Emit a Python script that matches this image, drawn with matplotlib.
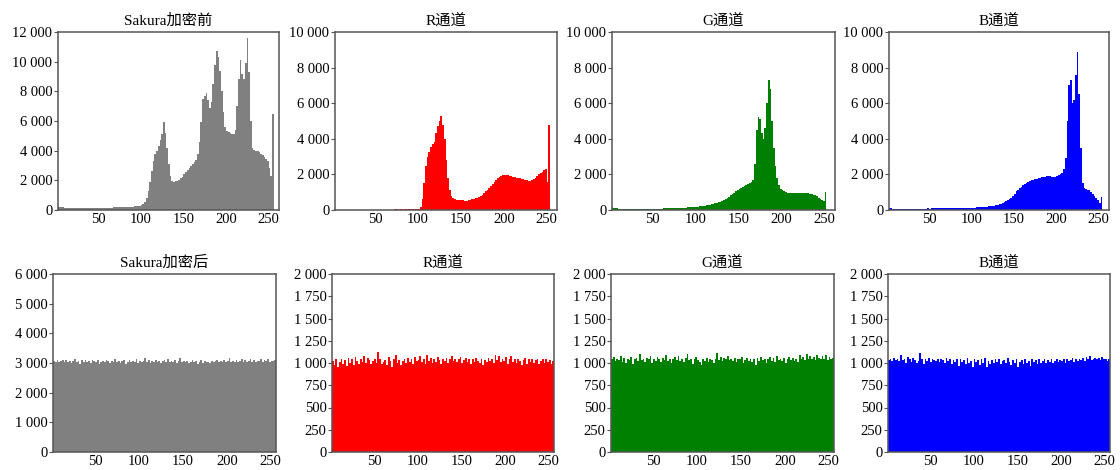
import numpy as np
import matplotlib
matplotlib.use("Agg")
import matplotlib.pyplot as plt
from matplotlib.ticker import FuncFormatter

plt.rcParams['font.family'] = ['Liberation Serif', 'Noto Sans CJK SC', 'DejaVu Sans']

# grey levels, one bin every 2 levels (0, 2, ..., 254)
levels = np.arange(0, 256, 2)

# before encryption
gray_before = [
    260, 250, 230, 200, 180, 160, 140, 130, 120, 115,
    110, 112, 108, 115, 110, 118, 112, 120, 115, 118,
    125, 130, 128, 135, 132, 140, 138, 145, 150, 148,
    155, 160, 158, 165, 170, 175, 172, 180, 185, 190,
    195, 200, 210, 215, 225, 235, 245, 255, 270, 290,
    310, 380, 520, 800, 1250, 1900, 2600, 3300, 3800, 4000,
    4300, 4700, 5100, 5900, 5200, 4200, 3100, 2300, 1950, 1900,
    1950, 1980, 2050, 2150, 2250, 2400, 2550, 2700, 2800, 2950,
    3100, 3250, 3400, 3800, 4600, 5900, 7500, 7700, 7900, 7400,
    6900, 7300, 8500, 9800, 10700, 10300, 9400, 8000, 6600, 5600,
    5300, 5250, 5200, 5150, 5100, 5400, 7000, 8800, 10100, 9200,
    8800, 9900, 11600, 9300, 6000, 4200, 4050, 4000, 3950, 3900,
    3800, 3700, 3600, 3450, 3300, 2800, 2300, 6500,
]
r_before = [
    0, 0, 0, 0, 0, 0, 0, 0, 0, 0,
    0, 0, 0, 0, 0, 0, 0, 0, 0, 0,
    0, 0, 0, 0, 0, 0, 0, 0, 0, 0,
    0, 0, 0, 0, 0, 0, 30, 40, 20, 35,
    40, 25, 45, 30, 50, 40, 35, 55, 45, 60,
    80, 150, 600, 1500, 2500, 3000, 3250, 3550, 3700, 3800,
    4300, 4700, 5000, 5300, 4800, 4000, 2800, 1800, 1100, 800,
    650, 600, 580, 570, 560, 550, 545, 530, 520, 540,
    560, 590, 620, 660, 700, 750, 800, 870, 950, 1050,
    1150, 1250, 1350, 1480, 1600, 1700, 1800, 1870, 1900, 1950,
    1950, 1980, 1950, 1920, 1900, 1880, 1850, 1820, 1800, 1780,
    1750, 1720, 1700, 1680, 1650, 1640, 1680, 1750, 1820, 1900,
    2000, 2080, 2150, 2250, 2300, 1600, 4750, 0,
]
g_before = [
    200, 160, 120, 100, 90, 80, 75, 70, 70, 65,
    65, 60, 62, 60, 58, 60, 62, 60, 63, 65,
    65, 68, 66, 70, 70, 72, 75, 74, 78, 80,
    82, 85, 88, 90, 95, 98, 100, 105, 110, 115,
    120, 125, 130, 135, 140, 148, 155, 160, 170, 175,
    185, 195, 205, 215, 230, 245, 260, 280, 300, 320,
    345, 370, 400, 430, 470, 510, 560, 610, 670, 740,
    820, 900, 980, 1050, 1120, 1180, 1230, 1290, 1340, 1390,
    1440, 1500, 1560, 1700, 2600, 4500, 5200, 5100, 4300, 4000,
    4600, 6000, 7300, 6800, 5000, 3500, 2500, 1800, 1400, 1200,
    1100, 1050, 1000, 980, 970, 960, 950, 950, 940, 950,
    960, 960, 970, 960, 950, 940, 920, 890, 860, 820,
    760, 700, 640, 580, 520, 1000, 0, 0,
]
b_before = [
    100, 90, 85, 80, 80, 78, 80, 75, 78, 80,
    78, 80, 76, 78, 80, 82, 78, 80, 82, 80,
    82, 80, 84, 82, 85, 84, 86, 85, 88, 86,
    88, 90, 88, 92, 90, 95, 92, 96, 98, 100,
    100, 102, 105, 108, 110, 112, 115, 118, 120, 125,
    130, 135, 140, 145, 150, 160, 165, 175, 185, 195,
    205, 220, 235, 250, 270, 290, 320, 350, 390, 430,
    480, 540, 610, 700, 800, 920, 1050, 1150, 1230, 1300,
    1380, 1450, 1520, 1580, 1640, 1680, 1700, 1720, 1750, 1780,
    1800, 1830, 1850, 1880, 1900, 1910, 1900, 1880, 1850, 1870,
    1900, 1950, 2000, 2100, 2300, 2900, 5000, 7000, 7300, 6000,
    6200, 7600, 8900, 6500, 3500, 1500, 1250, 1200, 1150, 1100,
    1000, 900, 800, 680, 550, 400, 750, 0,
]

# after encryption
gray_after = [
    3150, 3080, 3040, 3100, 3020, 3060, 3090, 3030, 3110, 3050,
    3070, 3000, 3080, 3120, 3040, 3060, 2980, 3090, 3050, 3100,
    3030, 3070, 3010, 3090, 3060, 3040, 3110, 2960, 3050, 3080,
    3020, 3100, 3060, 2990, 3070, 3040, 3120, 3030, 3080, 3010,
    3060, 3090, 2950, 3050, 3100, 3020, 3070, 3040, 3140, 3000,
    3080, 3030, 3060, 3170, 3040, 3090, 3010, 3070, 3050, 3110,
    3030, 3080, 3000, 3060, 3100, 3040, 3130, 3020, 3070, 3050,
    3090, 3010, 3060, 3180, 3030, 3080, 3040, 3070, 2990, 3050,
    3100, 3020, 3060, 2980, 3040, 3090, 3010, 3070, 3030, 3050,
    3010, 3080, 3040, 3060, 3100, 3020, 3070, 3050, 3090, 3030,
    3060, 3180, 3040, 3080, 3020, 3100, 3050, 3070, 3130, 3040,
    3090, 3030, 3070, 3150, 3050, 3100, 3020, 3080, 3060, 3120,
    3040, 3090, 3070, 3130, 3050, 3080, 3060, 3100,
]
r_after = [
    1110, 1020, 980, 1040, 960, 1010, 1050, 990, 1030, 970,
    1060, 1000, 1040, 980, 1070, 1020, 990, 1050, 1010, 1080,
    1000, 1060, 1030, 990, 1020, 1050, 1000, 1120, 1040, 990,
    1010, 1030, 980, 1070, 1020, 960, 1040, 1090, 1000, 1030,
    980, 1020, 1050, 1000, 1060, 1010, 1040, 990, 1070, 1020,
    1030, 1080, 1010, 1050, 990, 1090, 1020, 1060, 1000, 1040,
    1010, 1070, 1030, 990, 1050, 1020, 1060, 1000, 1040, 1080,
    1020, 1050, 1010, 1040, 1070, 1000, 1030, 1060, 1010, 1050,
    990, 1040, 1010, 1060, 1020, 1000, 1050, 980, 1030, 1010,
    1060, 1020, 1040, 1000, 1090, 1030, 1080, 1010, 1050, 1020,
    1070, 990, 1040, 1080, 1010, 1050, 1000, 1040, 1020, 980,
    1030, 1060, 990, 1040, 1010, 1050, 1000, 1030, 1040, 990,
    1020, 1050, 1000, 1040, 1010, 1030, 990, 1020,
]
g_after = [
    1060, 1040, 1070, 1020, 1050, 1030, 1080, 1010, 1060, 1000,
    1050, 1030, 1070, 990, 1040, 1060, 1020, 1100, 1030, 1050,
    1010, 1060, 1040, 1080, 1000, 1050, 1020, 1070, 1040, 1010,
    1060, 1030, 1090, 1020, 1050, 1000, 1040, 1070, 1030, 1080,
    1020, 1050, 1010, 1060, 1100, 1030, 1050, 990, 1040, 1070,
    1030, 1010, 980, 1040, 1020, 1060, 1010, 1050, 1030, 1000,
    1040, 1110, 1030, 1070, 1020, 1060, 1040, 1080, 1030, 1050,
    1020, 1060, 1010, 1050, 1040, 1070, 1000, 1030, 1060, 1020,
    1050, 1010, 1040, 980, 1060, 1020, 1070, 1030, 1050, 1000,
    1040, 1070, 1020, 1060, 1010, 1080, 1030, 1050, 1020, 1060,
    1000, 1040, 1070, 1030, 1060, 1020, 1050, 1010, 1090, 1040,
    1070, 1030, 1100, 1050, 1080, 1040, 1070, 1030, 1090, 1060,
    1050, 1080, 1040, 1090, 1030, 1070, 1050, 1060,
]
b_after = [
    1050, 1030, 1040, 1020, 1060, 1030, 1040, 1020, 1090, 1030,
    1050, 1000, 1070, 1040, 1010, 1060, 1030, 1000, 1020, 1110,
    1040, 990, 1050, 1020, 1060, 1010, 1040, 1030, 1020, 1050,
    1010, 1040, 1030, 1000, 1060, 1020, 1050, 990, 1030, 1010,
    1040, 970, 1050, 1010, 1030, 990, 1060, 1000, 1020, 960,
    1040, 1010, 1030, 980, 1050, 1000, 1060, 950, 1020, 990,
    1030, 1000, 1050, 1010, 1040, 990, 1020, 1030, 1000, 1060,
    1010, 980, 1030, 1000, 1040, 960, 1010, 1030, 990, 1050,
    1000, 1020, 970, 1040, 1010, 1030, 990, 1050, 1000, 1020,
    1040, 1000, 1030, 1010, 1050, 1000, 1020, 1040, 1010, 1030,
    1020, 1050, 1000, 1040, 1020, 1030, 1060, 1010, 1040, 1020,
    1050, 1030, 1060, 1020, 1070, 1040, 1080, 1030, 1050, 1060,
    1040, 1060, 1030, 1070, 1040, 1050, 1020, 1040,
]

titles_top = ["Sakura加密前", "R通道", "G通道", "B通道"]
titles_bottom = ["Sakura加密后", "R通道", "G通道", "B通道"]
colors = ["#808080", "#ff0000", "#008000", "#0000ff"]
top_data = [gray_before, r_before, g_before, b_before]
bottom_data = [gray_after, r_after, g_after, b_after]
top_ymax = [12000, 10000, 10000, 10000]
top_yticks = [np.arange(0, 12001, 2000)] + [np.arange(0, 10001, 2000)] * 3
bottom_ymax = [6000, 2000, 2000, 2000]
bottom_yticks = [np.arange(0, 6001, 1000)] + [np.arange(0, 2001, 250)] * 3

W, H = 1120, 470
fig = plt.figure(figsize=(W / 100, H / 100), dpi=100)

top_cols = [(58, 279), (335, 557), (612, 835), (889, 1109)]
bottom_cols = [(53, 276), (332, 554), (611, 834), (888, 1110)]

edges = np.append(levels, 256)
fmt = FuncFormatter(lambda v, p: f"{int(v):,}".replace(",", " "))


def style(ax):
    for s in ax.spines.values():
        s.set_color("#555555")
        s.set_linewidth(1.1)
    ax.tick_params(axis="y", direction="out", length=3, width=0.8,
                   colors="#555555", labelcolor="black", labelsize=10.5, pad=1)
    ax.tick_params(axis="x", length=0, labelsize=10.5, pad=2)
    ax.yaxis.set_major_formatter(fmt)
    ax.set_xticks([50, 100, 150, 200, 250])


for i in range(4):
    l, r = top_cols[i]
    ax = fig.add_axes([l / W, 1 - 210 / H, (r - l) / W, (210 - 32) / H])
    ax.stairs(top_data[i], edges, fill=True, color=colors[i], linewidth=0)
    ax.set_xlim(3, 262)
    ax.set_ylim(0, top_ymax[i])
    ax.set_yticks(top_yticks[i])
    ax.set_title(titles_top[i], fontsize=11, pad=5)
    style(ax)

    l, r = bottom_cols[i]
    ax = fig.add_axes([l / W, 1 - 452 / H, (r - l) / W, (452 - 274) / H])
    ax.stairs(bottom_data[i], edges, fill=True, color=colors[i], linewidth=0)
    ax.set_xlim(2, 256)
    ax.set_ylim(0, bottom_ymax[i])
    ax.set_yticks(bottom_yticks[i])
    ax.set_title(titles_bottom[i], fontsize=11, pad=5)
    style(ax)

fig.savefig("out.png", dpi=100)
